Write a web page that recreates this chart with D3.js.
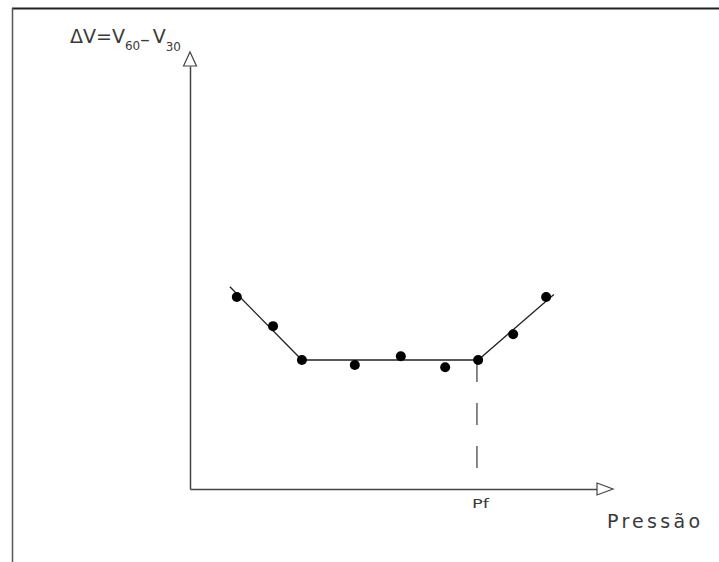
<!DOCTYPE html>
<html>
<head>
<meta charset="utf-8">
<script src="https://cdn.jsdelivr.net/npm/d3@7"></script>
<style>
  html, body { margin: 0; padding: 0; background: #fff; }
  svg { display: block; }
  text { font-family: "DejaVu Sans", sans-serif; fill: #3a3a3a; }
</style>
</head>
<body>
<div id="chart"></div>
<script>
// Measured pairs: pressure vs. volume difference ΔV = V60 − V30
const pressure = [11.5, 20.4, 27.5, 40.5, 51.8, 62.7, 70.8, 79.4, 87.5];
const deltaV   = [45.4, 38.5, 30.5, 29.3, 31.4, 28.8, 30.5, 36.6, 45.4];

// Piecewise straight-line fit (descending branch, plateau, rising branch)
const fitPressure = [9.8, 27.5, 70.8, 89.4];
const fitDeltaV   = [47.8, 30.5, 30.5, 46.0];

// Pf marker: end of the plateau, dashed down towards the pressure axis
const pf = 70.5;
const pfDeltaV = [30.5, 4.7];

const W = 719, H = 562;
const svg = d3.select("#chart").append("svg")
  .attr("width", W).attr("height", H);

// sheet border (top and left edges)
svg.append("line").attr("x1", 12).attr("y1", 8.5).attr("x2", W).attr("y2", 8.5)
  .attr("stroke", "#222").attr("stroke-width", 2);
svg.append("line").attr("x1", 12.5).attr("y1", 8).attr("x2", 12.5).attr("y2", H)
  .attr("stroke", "#555").attr("stroke-width", 1.5);

const x = d3.scaleLinear().domain([0, 100]).range([190, 597]);
const y = d3.scaleLinear().domain([0, 100]).range([489, 66]);

// axes without ticks
svg.append("g").attr("transform", `translate(0,${y(0)})`)
  .call(d3.axisBottom(x).tickValues([]).tickSizeOuter(0));
svg.append("g").attr("transform", `translate(${x(0)},0)`)
  .call(d3.axisLeft(y).tickValues([]).tickSizeOuter(0));
svg.selectAll(".domain").attr("stroke", "#444").attr("stroke-width", 1.5);

// hollow arrowheads at the axis ends
const xe = x.range()[1], y0 = y(0);
svg.append("path")
  .attr("d", `M${xe},${y0 - 6}L${xe + 16},${y0}L${xe},${y0 + 6}Z`)
  .attr("fill", "#fff").attr("stroke", "#444").attr("stroke-width", 1.2);
const ye = y.range()[1], x0 = x(0);
svg.append("path")
  .attr("d", `M${x0 - 6.5},${ye}L${x0},${ye - 14}L${x0 + 6.5},${ye}Z`)
  .attr("fill", "#fff").attr("stroke", "#444").attr("stroke-width", 1.2);

// fitted line
const fit = fitPressure.map((p, i) => [p, fitDeltaV[i]]);
svg.append("path")
  .datum(fit)
  .attr("d", d3.line().x(d => x(d[0])).y(d => y(d[1])))
  .attr("fill", "none").attr("stroke", "#222").attr("stroke-width", 1.3);

// dashed Pf guide
svg.append("line")
  .attr("x1", x(pf)).attr("x2", x(pf))
  .attr("y1", y(pfDeltaV[0])).attr("y2", y(pfDeltaV[1]))
  .attr("stroke", "#555").attr("stroke-width", 1.4)
  .attr("stroke-dasharray", "22,21");

// data points
svg.selectAll("circle.pt")
  .data(pressure.map((p, i) => [p, deltaV[i]]))
  .join("circle").attr("class", "pt")
  .attr("cx", d => x(d[0])).attr("cy", d => y(d[1]))
  .attr("r", 5).attr("fill", "#000");

// labels
svg.append("text").attr("x", 472).attr("y", 508)
  .attr("font-size", 13).attr("textLength", 17).attr("lengthAdjust", "spacingAndGlyphs")
  .text("Pf");
svg.append("text").attr("x", 607).attr("y", 528)
  .attr("font-size", 19).attr("textLength", 93).attr("lengthAdjust", "spacing")
  .text("Pressão");

// y-axis title: ΔV = V60 − V30, subscripts set with tspans
const title = svg.append("text").attr("x", 70).attr("y", 43).attr("font-size", 19);
title.append("tspan").text("ΔV=V");
title.append("tspan").attr("dy", 7).attr("font-size", 12).text("60");
title.append("tspan").attr("dy", -4).text("–");
title.append("tspan").attr("dx", 3).attr("dy", -3).text("V");
title.append("tspan").attr("dy", 8).attr("font-size", 12).text("30");
</script>
</body>
</html>
